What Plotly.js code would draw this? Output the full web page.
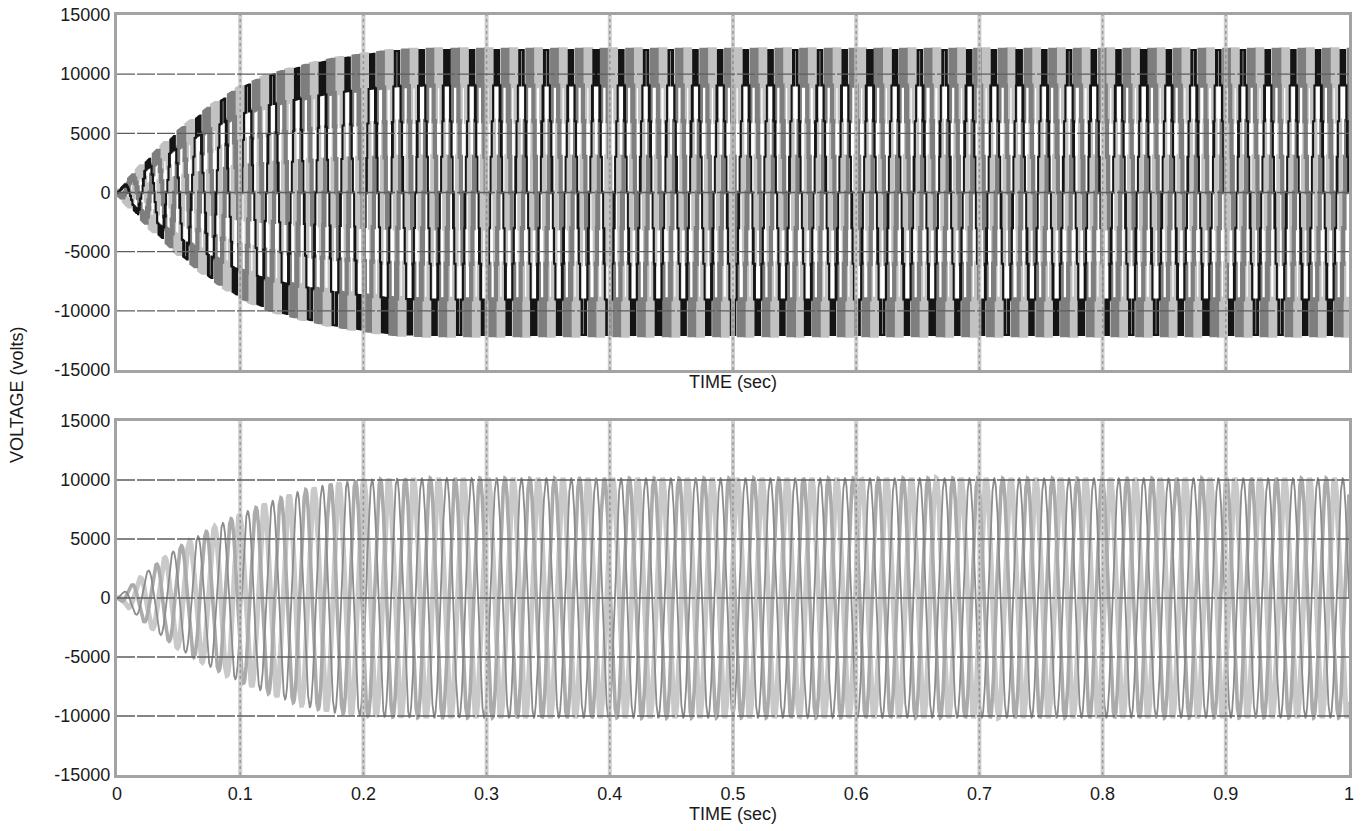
<!DOCTYPE html>
<html><head><meta charset="utf-8">
<script src="https://cdn.plot.ly/plotly-3.0.1.min.js"></script>
<style>html,body{margin:0;padding:0;background:#fff}#chart{width:1363px;height:831px}</style>
</head><body><div id="chart"></div>
<script>
// ---- values ----
const envTime    = [0, 0.025, 0.05, 0.075, 0.1, 0.125, 0.15, 0.175, 0.2, 0.225, 0.25, 1.0];
const envTop     = [0, 2700, 5100, 7100, 8800, 9900, 10600, 11200, 11600, 11950, 12050, 12050];
const envBottom  = [0, 2300, 4300, 5800, 7100, 8200, 9100, 9700, 10000, 10100, 10150, 10150];
const levelsPerHalf = 4;           // 9-level staircase: 0, ±1/4, ±2/4, ±3/4, ±4/4 of the envelope
const fundamentalHz = 49.5;
const carrierHz = 900;
const phaseShiftsDeg = [0, -120, 120];
const topColors = ['#141414', '#7e7e7e', '#c2c2c2'];
const topWidths = [2.0, 4.2, 5.2];
const bottomColors = ['#8c8c8c', '#ababab', '#c9c9c9'];
const bottomWidths = [1.8, 3.6, 5.0];
const yTickVals = [-15000, -10000, -5000, 0, 5000, 10000, 15000];
const yTickText = ['-15000', '-10000', '-5000', '0', '5000', '10000', '15000'];
const xTickVals = [0, 0.1, 0.2, 0.3, 0.4, 0.5, 0.6, 0.7, 0.8, 0.9, 1];
const xTickText = ['0', '0.1', '0.2', '0.3', '0.4', '0.5', '0.6', '0.7', '0.8', '0.9', '1'];

function envAt(t, env) {
  for (let i = 1; i < envTime.length; i++) {
    if (t <= envTime[i]) {
      const f = (t - envTime[i-1]) / (envTime[i] - envTime[i-1]);
      return env[i-1] + f * (env[i] - env[i-1]);
    }
  }
  return env[env.length - 1];
}
const dt = 2e-5;
const N = Math.round(1 / dt);

const traces = [];
// top: stepped multilevel phase voltages (light phase drawn first)
for (let k = 2; k >= 0; k--) {
  const ph = phaseShiftsDeg[k] * Math.PI / 180;
  const xs = [], ys = [];
  let prevN = null;
  for (let i = 0; i <= N; i++) {
    const t = i * dt;
    const A = envAt(t, envTop);
    const u = levelsPerHalf * Math.sin(2 * Math.PI * fundamentalHz * t + ph);
    const n = Math.floor(u), f = u - n;
    const cp = (t * carrierHz) % 1;
    const c = cp < 0.5 ? 2 * cp : 2 - 2 * cp;
    let lv = Math.max(-levelsPerHalf, Math.min(levelsPerHalf, f > c ? n + 1 : n));
    if (lv !== prevN || i === N || i % 25 === 0) { xs.push(t); ys.push(lv * A / levelsPerHalf); prevN = lv; }
  }
  traces.push({x: xs, y: ys, type: 'scatter', mode: 'lines', line: {color: topColors[k], width: topWidths[k], shape: 'hv'},
    xaxis: 'x', yaxis: 'y', hoverinfo: 'skip', showlegend: false});
}
// bottom: sinusoidal phase voltages
for (let k = 2; k >= 0; k--) {
  const ph = phaseShiftsDeg[k] * Math.PI / 180;
  const xs = [], ys = [];
  for (let i = 0; i <= N; i += 2) {
    const t = i * dt;
    xs.push(t);
    ys.push(envAt(t, envBottom) * Math.sin(2 * Math.PI * fundamentalHz * t + ph));
  }
  traces.push({x: xs, y: ys, type: 'scatter', mode: 'lines', line: {color: bottomColors[k], width: bottomWidths[k]},
    xaxis: 'x2', yaxis: 'y2', hoverinfo: 'skip', showlegend: false});
}

const shapes = [];
[['x','y'],['x2','y2']].forEach(([xa, ya]) => {
  xTickVals.slice(1, -1).forEach(v => {
    shapes.push({type: 'line', xref: xa, yref: ya + ' domain', x0: v, x1: v, y0: 0, y1: 1,
      line: {color: 'rgba(195,195,195,0.8)', width: 4}, layer: 'above'});
    shapes.push({type: 'line', xref: xa, yref: ya + ' domain', x0: v, x1: v, y0: 0, y1: 1,
      line: {color: 'rgba(120,120,120,0.6)', width: 1.5, dash: 'dot'}, layer: 'above'});
  });
  yTickVals.slice(1, -1).forEach(v => shapes.push({type: 'line', xref: xa + ' domain', yref: ya, x0: 0, x1: 1, y0: v, y1: v,
    line: {color: '#5e5e5e', width: 1.4, dash: '18px,2px'}, layer: 'above'}));
});

const font = {family: 'Liberation Sans, Arial, sans-serif', size: 18, color: '#1a1a1a'};
const axCommon = {showgrid: false, zeroline: false, showline: true, mirror: true, linecolor: '#a3a3a3', linewidth: 3,
  ticks: '', tickfont: font};
const layout = {
  width: 1363, height: 831, paper_bgcolor: '#fff', plot_bgcolor: '#fff',
  margin: {l: 117, r: 14, t: 15, b: 56}, showlegend: false, font: font,
  xaxis: Object.assign({}, axCommon, {domain: [0, 1], range: [0, 1], showticklabels: false, anchor: 'y',
    title: {text: 'TIME (sec)', font: font, standoff: 4}}),
  yaxis: Object.assign({}, axCommon, {domain: [0.5329, 1], range: [-15000, 15000], tickvals: yTickVals, ticktext: yTickText, anchor: 'x'}),
  xaxis2: Object.assign({}, axCommon, {domain: [0, 1], range: [0, 1], tickvals: xTickVals, ticktext: xTickText, anchor: 'y2',
    title: {text: 'TIME (sec)', font: font, standoff: 0}}),
  yaxis2: Object.assign({}, axCommon, {domain: [0, 0.4658], range: [-15000, 15000], tickvals: yTickVals, ticktext: yTickText, anchor: 'x2'}),
  shapes: shapes,
  annotations: [{text: 'VOLTAGE (volts)', textangle: -90, xref: 'paper', yref: 'paper', x: -0.0812, y: 0.5, xanchor: 'center', yanchor: 'middle',
    showarrow: false, font: font}]
};
Plotly.newPlot('chart', traces, layout, {displayModeBar: false, staticPlot: true});
</script>
</body></html>
